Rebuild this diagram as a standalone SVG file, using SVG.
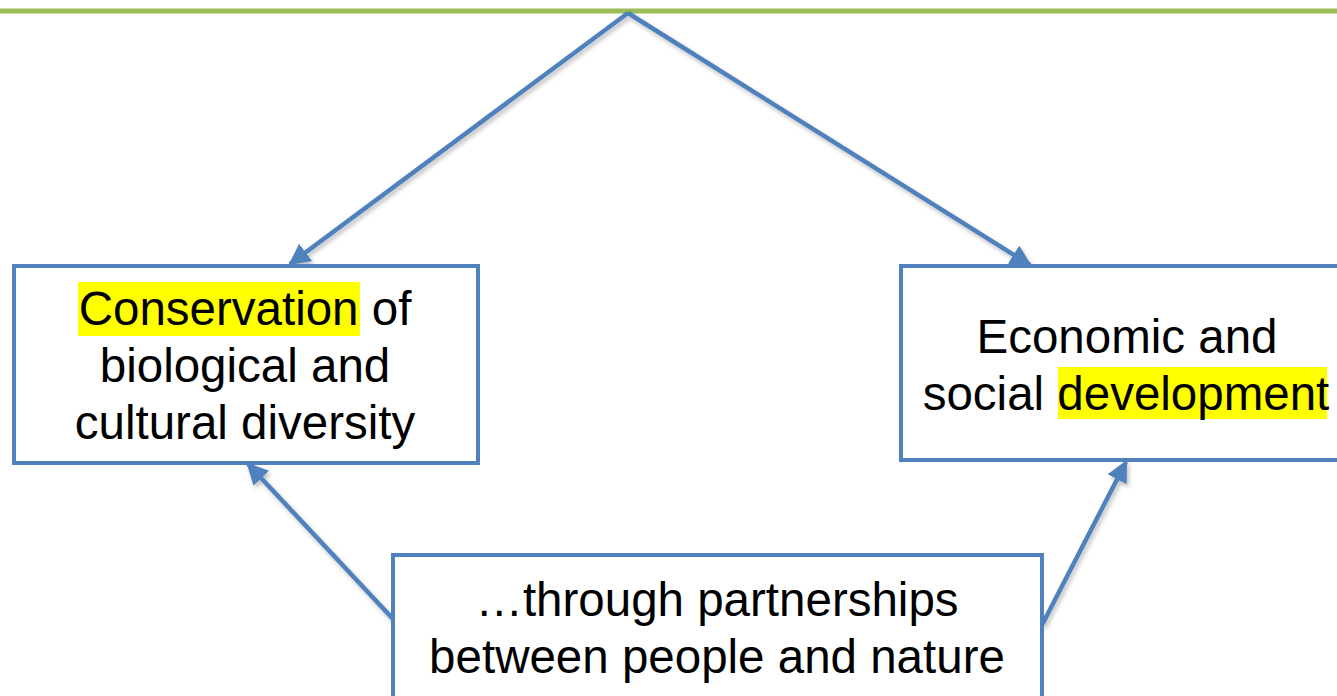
<svg xmlns="http://www.w3.org/2000/svg" width="1337" height="696" viewBox="0 0 1337 696">
<style>
.box{fill:#fff;stroke:#4F81BD;stroke-width:4}
.t{font-family:"Liberation Sans",Arial,sans-serif;font-size:47.5px;fill:#000;text-anchor:middle}
.hl{fill:#FFFF00}
.conn{stroke:#4F81BD;stroke-width:4.5;fill:none}
</style>
<defs>
<marker id="ah" viewBox="0 0 10 10" refX="9" refY="5" markerWidth="4.8" markerHeight="4.8" markerUnits="strokeWidth" orient="auto">
<path d="M0,0 L10,5 L0,10 Z" fill="#4F81BD"/>
</marker>
<filter id="sh" x="-10%" y="-10%" width="120%" height="120%">
<feDropShadow dx="2" dy="3" stdDeviation="2" flood-color="#000" flood-opacity="0.25"/>
</filter>
</defs>
<rect x="0" y="8.5" width="1337" height="5" fill="#9BBB59"/>
<g id="connectors" filter="url(#sh)">
<path class="conn" d="M628,13 L290,264" marker-end="url(#ah)"/>
<path class="conn" d="M628,13 L1030,265" marker-end="url(#ah)"/>
<path class="conn" d="M394,620 L248,464" marker-end="url(#ah)"/>
<path class="conn" d="M1042,625 L1126,462" marker-end="url(#ah)"/>
</g>
<g id="node-conservation">
<rect class="box" x="14" y="266" width="464" height="197"/>
<rect class="hl" x="78" y="282" width="282" height="54"/>
<text class="t" x="245" y="325">Conservation of</text>
<text class="t" x="245" y="382">biological and</text>
<text class="t" x="245" y="439">cultural diversity</text>
</g>
<g id="node-development">
<rect class="box" x="901" y="266" width="440" height="194"/>
<rect class="hl" x="1058" y="367" width="269" height="52"/>
<text class="t" x="1127" y="353">Economic and</text>
<text class="t" x="1126" y="410">social development</text>
</g>
<g id="node-partnerships">
<rect class="box" x="393" y="555" width="649" height="150"/>
<text class="t" x="717" y="616">…through partnerships</text>
<text class="t" x="717" y="673">between people and nature</text>
</g>
</svg>
